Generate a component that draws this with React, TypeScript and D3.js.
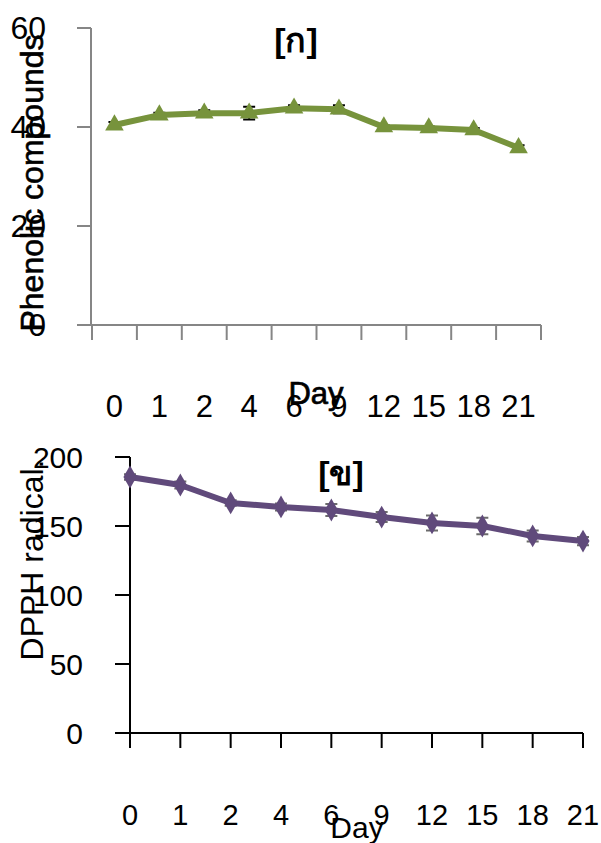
import React, { useRef, useEffect } from 'react';
import * as d3 from 'd3';

const days = ['0', '1', '2', '4', '6', '9', '12', '15', '18', '21'];
const phenolic = [40.4, 42.4, 42.8, 42.8, 43.8, 43.6, 40.0, 39.8, 39.4, 35.8];
const phenolicErr = [0.6, 0.5, 0.6, 1.3, 0.6, 0.8, 0.3, 0.3, 0.4, 0.5];
const phenolicTicks = [0, 20, 40, 60];
const dpph = [185.5, 179.7, 166.7, 163.8, 161.6, 156.5, 152.2, 150.0, 142.8, 139.1];
const dpphErr = [2, 2.5, 2, 2.5, 4.3, 3.6, 5.4, 6, 4, 3];
const dpphTicks = [0, 50, 100, 150, 200];

const FONT = 'Arial, "Liberation Sans", sans-serif';

const App = () => {
  const ref = useRef<SVGSVGElement>(null);

  useEffect(() => {
    const svg = d3.select(ref.current);
    svg.selectAll('*').remove();

    // ---- top chart [ก]
    const top = svg.append('g');
    const x1 = d3.scaleBand().domain(days).range([92, 541]);
    const y1 = d3.scaleLinear().domain([0, 60]).range([325, 28]);
    const grey = '#868686';
    const green = '#77933C';

    top.append('line').attr('x1', 91).attr('x2', 91).attr('y1', y1(60)).attr('y2', y1(0))
      .attr('stroke', grey).attr('stroke-width', 2);
    top.append('line').attr('x1', 77).attr('x2', 541).attr('y1', y1(0)).attr('y2', y1(0))
      .attr('stroke', grey).attr('stroke-width', 2);
    top.selectAll('.ytick').data(phenolicTicks).enter().append('line')
      .attr('x1', 77).attr('x2', 91).attr('y1', (d) => y1(d)).attr('y2', (d) => y1(d))
      .attr('stroke', grey).attr('stroke-width', 2);
    const bounds = days.map((d) => x1(d)!).concat([541]);
    top.selectAll('.xtick').data(bounds).enter().append('line')
      .attr('x1', (d) => d).attr('x2', (d) => d).attr('y1', y1(0)).attr('y2', 340)
      .attr('stroke', grey).attr('stroke-width', 2);
    top.selectAll('.ylab').data(phenolicTicks).enter().append('text')
      .attr('x', 46).attr('y', (d) => y1(d)).attr('dy', '0.35em').attr('text-anchor', 'end')
      .attr('font-size', 32).attr('font-family', FONT).text((d) => d);
    top.selectAll('.xlab').data(days).enter().append('text')
      .attr('x', (d) => x1(d)! + x1.bandwidth() / 2).attr('y', 417).attr('text-anchor', 'middle')
      .attr('font-size', 31).attr('font-family', FONT).text((d) => d);

    top.selectAll('.err').data(phenolic).enter().append('path')
      .attr('d', (d, i) => {
        const cx = x1(days[i])! + x1.bandwidth() / 2;
        const a = y1(d + phenolicErr[i]);
        const b = y1(d - phenolicErr[i]);
        return `M${cx},${a}V${b}M${cx - 6},${a}H${cx + 6}M${cx - 6},${b}H${cx + 6}`;
      })
      .attr('stroke', '#000').attr('stroke-width', 2).attr('fill', 'none');
    const line1 = d3.line<number>()
      .x((d, i) => x1(days[i])! + x1.bandwidth() / 2)
      .y((d) => y1(d));
    top.append('path').datum(phenolic).attr('d', line1).attr('fill', 'none')
      .attr('stroke', green).attr('stroke-width', 6).attr('stroke-linejoin', 'round');
    top.selectAll('.tri').data(phenolic).enter().append('path')
      .attr('d', d3.symbol(d3.symbolTriangle, 150)())
      .attr('transform', (d, i) => `translate(${x1(days[i])! + x1.bandwidth() / 2},${y1(d)})`)
      .attr('fill', green);

    top.append('text').attr('x', 296).attr('y', 52).attr('text-anchor', 'middle')
      .attr('font-size', 34).attr('font-weight', 'bold').attr('font-family', FONT).text('[ก]');
    top.append('text').attr('x', 316).attr('y', 404).attr('text-anchor', 'middle')
      .attr('font-size', 31).attr('font-family', FONT).attr('stroke', '#000').attr('stroke-width', 0.7)
      .text('Day');
    top.append('text').attr('transform', 'translate(43,183) rotate(-90)').attr('text-anchor', 'middle')
      .attr('font-size', 32).attr('font-family', FONT).attr('stroke', '#000').attr('stroke-width', 0.6)
      .text('Phenolic compounds');

    // ---- bottom chart [ข]
    const bot = svg.append('g');
    const x2 = d3.scalePoint().domain(days).range([130, 583]);
    const y2 = d3.scaleLinear().domain([0, 200]).range([733, 457]);
    const purple = '#604A7B';

    bot.append('line').attr('x1', 130).attr('x2', 130).attr('y1', y2(200)).attr('y2', y2(0))
      .attr('stroke', '#000').attr('stroke-width', 2);
    bot.append('line').attr('x1', 115).attr('x2', 583).attr('y1', y2(0)).attr('y2', y2(0))
      .attr('stroke', '#000').attr('stroke-width', 2);
    bot.selectAll('.ytick').data(dpphTicks).enter().append('line')
      .attr('x1', 115).attr('x2', 130).attr('y1', (d) => y2(d)).attr('y2', (d) => y2(d))
      .attr('stroke', '#000').attr('stroke-width', 2);
    bot.selectAll('.xtick').data(days).enter().append('line')
      .attr('x1', (d) => x2(d)!).attr('x2', (d) => x2(d)!).attr('y1', y2(0)).attr('y2', 748)
      .attr('stroke', '#000').attr('stroke-width', 2);
    bot.selectAll('.ylab').data(dpphTicks).enter().append('text')
      .attr('x', 83).attr('y', (d) => y2(d)).attr('dy', '0.35em').attr('text-anchor', 'end')
      .attr('font-size', 30).attr('font-family', FONT).text((d) => d);
    bot.selectAll('.xlab').data(days).enter().append('text')
      .attr('x', (d) => x2(d)!).attr('y', 825).attr('text-anchor', 'middle')
      .attr('font-size', 29).attr('font-family', FONT).text((d) => d);

    bot.selectAll('.err').data(dpph).enter().append('path')
      .attr('d', (d, i) => {
        const cx = x2(days[i])!;
        const a = y2(d + dpphErr[i]);
        const b = y2(d - dpphErr[i]);
        return `M${cx},${a}V${b}M${cx - 6},${a}H${cx + 6}M${cx - 6},${b}H${cx + 6}`;
      })
      .attr('stroke', '#6b6b6b').attr('stroke-width', 2).attr('fill', 'none');
    const line2 = d3.line<number>()
      .x((d, i) => x2(days[i])!)
      .y((d) => y2(d));
    bot.append('path').datum(dpph).attr('d', line2).attr('fill', 'none')
      .attr('stroke', purple).attr('stroke-width', 6).attr('stroke-linejoin', 'round');
    bot.selectAll('.dia').data(dpph).enter().append('path')
      .attr('d', d3.symbol(d3.symbolDiamond, 150)())
      .attr('transform', (d, i) => `translate(${x2(days[i])},${y2(d)})`)
      .attr('fill', purple);

    bot.append('text').attr('x', 341).attr('y', 485).attr('text-anchor', 'middle')
      .attr('font-size', 34).attr('font-weight', 'bold').attr('font-family', FONT).text('[ข]');
    bot.append('text').attr('x', 357).attr('y', 838).attr('text-anchor', 'middle')
      .attr('font-size', 30).attr('font-family', FONT).text('Day');
    bot.append('text').attr('transform', 'translate(43,560) rotate(-90)').attr('text-anchor', 'middle')
      .attr('font-size', 32).attr('font-family', FONT).text('DPPH radical.');
  }, []);

  return (
    <svg
      ref={ref}
      width={601}
      height={843}
      style={{ position: 'absolute', left: 0, top: 0, background: '#fff' }}
    />
  );
};

export default App;
